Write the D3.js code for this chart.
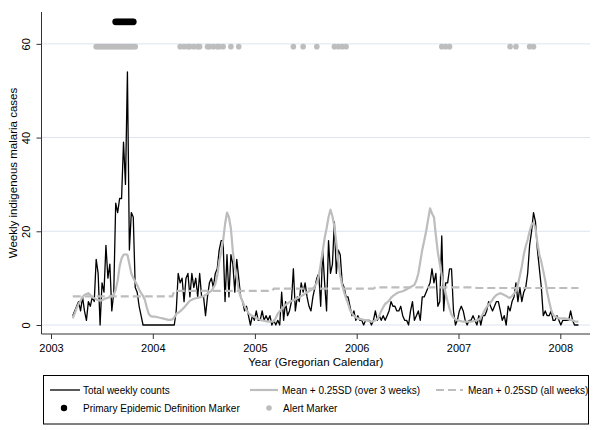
<!DOCTYPE html>
<html><head><meta charset="utf-8">
<script src="https://cdn.jsdelivr.net/npm/d3@7"></script>
<style>
body{margin:0;background:#fff}
svg{display:block}
text{font-family:"Liberation Sans",Arial,Helvetica,sans-serif;fill:#000}
</style>
</head><body>
<svg id="c" width="600" height="430"></svg>
<script>
// ---------------- DATA ----------------
const firstWeek = "2003-03-20";   // date of the first weekly observation
const weeklyCounts = [
 2,3,4,5,3,6,3,1,5,4,6,5,14,11,0,9,7,17,10,13,3,7,26,24,27,27,39,30,54,16,24,23,8,7,4,2,0,
 0,0,0,0,0,0,0,0,0,0,0,0,0,0,0,0,
 3,11,9,10,5,10,11,6,11,8,10,6,11,6,6,2,6,9,10,8,11,12,16,18,18,5,15,6,15,13,7,14,10,6,5,3,4,2,0,2,1,3,1,1,3,1,2,1,2,0,1,0,1,0,
 7,1,5,2,3,5,12,3,6,5,9,7,9,6,4,3,6,8,10,11,4,16,9,3,18,11,13,22,11,16,15,9,8,6,6,4,2,3,1,2,1,1,0,1,1,1,0,1,
 3,1,2,1,2,1,2,3,5,4,4,3,3,4,2,1,1,0,3,5,1,2,3,1,6,6,7,8,9,12,9,11,4,5,19,3,9,9,12,12,3,0,1,3,4,3,1,0,1,1,2,1,0,2,0,
 2,2,3,5,4,3,4,5,5,3,1,2,0,4,3,5,6,9,5,8,5,7,8,11,17,20,24,22,16,12,8,2,3,2,2,3,1,1,2,1,0,1,1,1,1,3,1,0,0,0
];
const mean3Weeks = [
 1.4,2.5,3.6,4.5,5.2,6.0,6.4,6.6,6.8,6.4,
 5.9,5.7,5.5,5.3,5.2,5.3,5.5,5.7,5.8,6.0,
 6.2,6.5,7.5,9.5,12.5,14.2,15.0,15.1,15.0,13.0,
 11.0,10.0,9.3,8.5,7.6,6.8,6.2,5.3,3.6,2.3,
 1.9,1.8,1.8,1.7,1.6,1.5,1.4,1.3,1.2,1.1,
 1.1,1.2,1.6,2.4,2.6,2.9,3.3,3.7,4.2,4.7,
 5.2,5.4,5.6,5.7,5.8,5.9,6.0,6.1,6.4,6.7,
 7.0,7.3,7.9,8.7,10.5,13.5,15.5,18.0,21.5,24.0,
 23.0,20.6,15.7,12.5,10.0,7.5,6.0,5.0,4.0,3.2,
 2.5,2.2,1.9,1.7,1.5,1.3,1.1,1.0,0.9,0.8,
 0.7,0.7,0.7,0.8,1.5,2.4,2.9,3.4,3.9,4.3,
 4.6,4.9,5.1,5.3,5.5,5.7,5.9,6.2,6.4,6.7,
 7.0,7.2,7.4,7.8,8.3,9.0,10.5,13.0,15.7,18.5,
 20.6,23.0,24.6,23.2,21.0,17.5,13.5,10.5,8.5,7.0,
 5.7,4.6,3.2,2.5,2.0,1.6,1.4,1.3,1.2,1.1,
 1.0,0.9,0.8,0.7,0.8,1.0,1.3,2.0,3.0,3.8,
 4.5,4.8,5.2,5.8,6.2,6.5,6.8,7.0,7.1,7.2,
 7.4,7.6,7.9,8.1,8.3,8.6,9.5,11.0,13.5,16.0,
 18.0,20.0,22.5,24.9,23.8,23.0,19.0,15.5,13.0,10.5,
 8.5,6.8,5.0,3.5,2.2,1.6,1.2,1.0,0.9,0.8,
 0.7,0.7,0.7,0.7,0.7,0.8,0.9,1.0,1.2,1.6,
 2.3,3.2,3.8,4.4,4.8,5.4,6.0,6.4,6.6,6.8,
 6.6,6.4,6.2,5.9,5.8,6.2,6.7,7.3,8.6,10.5,
 12.5,15.0,16.8,18.2,20.0,21.4,21.8,20.6,17.5,15.0,
 13.5,11.5,9.5,7.0,5.0,3.3,2.2,1.8,1.6,1.4,
 1.4,1.4,1.4,1.3,1.2,1.1,1.0,0.8,0.7,0.7
];
// threshold over all weeks: value that holds from a given week index on
const allWeeksFromWeek = [0, 52, 103, 155, 207];
const allWeeksValue    = [6.1, 7.3, 7.75, 8.05, 7.9];
// week indices flagged
const alertWeeks = [12,13,14,15,16,17,18,19,20,21,22,23,24,25,26,27,28,29,30,31,32,
 55,57,59,60,62,64,65,69,70,72,74,75,77,81,85,113,118,125,134,136,138,140,189,191,193,224,227,234,236];
const epidemicWeeks = [22,23,24,25,26,27,28,29,30,31];
const alertLevel = 59.4;
const epidemicLevel = 64.7;
const yearTicks = [2003,2004,2005,2006,2007,2008];
const yTicks = [0,20,40,60];
const legendLabels = ["Total weekly counts","Mean + 0.25SD (over 3 weeks)","Mean + 0.25SD (all weeks)","Primary Epidemic Definition Marker","Alert Marker"];

// ---------------- CHART ----------------
const svg = d3.select("#c");
const plotL = 41.5, plotR = 590, plotT = 12, plotB = 334;
const grayCol = "#bdbdbd";

const x = d3.scaleUtc()
  .domain([new Date(Date.UTC(yearTicks[0],0,1)), new Date(Date.UTC(yearTicks[yearTicks.length-1],0,1))])
  .range([51, 560.3]);
const y = d3.scaleLinear().domain([-1.92, 66.8]).range([plotB, plotT]);

const start = new Date(firstWeek + "T00:00:00Z");
const weekDate = i => d3.utcDay.offset(start, 7 * i);
const allWeeksAt = i => { let v = allWeeksValue[0]; allWeeksFromWeek.forEach((w,k)=>{ if (i >= w) v = allWeeksValue[k]; }); return v; };

const rows = weeklyCounts.map((c,i)=>({d: weekDate(i), c, m: mean3Weeks[i], a: allWeeksAt(i)}));

// gridlines
svg.append("g").selectAll("line").data(yTicks).join("line")
  .attr("x1", plotL).attr("x2", plotR)
  .attr("y1", d=>y(d)).attr("y2", d=>y(d))
  .attr("stroke", "#dde3ef").attr("stroke-width", 1);

// axes
const yAxis = svg.append("g").attr("transform", `translate(${plotL},0)`)
  .call(d3.axisLeft(y).tickValues(yTicks).tickSize(5).tickFormat(d3.format("d")));
yAxis.select(".domain").remove();
yAxis.selectAll(".tick line").attr("stroke", "#333");
yAxis.selectAll(".tick text")
  .attr("transform", "rotate(-90)").attr("x", 0).attr("y", -11.5).attr("dy", 0)
  .attr("text-anchor", "middle").style("font-size", "11px").style("font-family", null);

const xAxis = svg.append("g").attr("transform", `translate(0,${plotB})`)
  .call(d3.axisBottom(x).tickValues(yearTicks.map(v=>new Date(Date.UTC(v,0,1)))).tickSize(5).tickFormat(d3.utcFormat("%Y")));
xAxis.select(".domain").remove();
xAxis.selectAll(".tick line").attr("stroke", "#333");
xAxis.selectAll(".tick text").attr("y", 10.5).style("font-size", "11px").style("font-family", null);

svg.append("line").attr("x1", plotL).attr("x2", plotL).attr("y1", plotT).attr("y2", plotB).attr("stroke", "#333");
svg.append("line").attr("x1", plotL).attr("x2", plotR).attr("y1", plotB).attr("y2", plotB).attr("stroke", "#333");

// titles
svg.append("text").attr("transform", `translate(17,173) rotate(-90)`).attr("text-anchor","middle")
  .style("font-size","11.5px").text("Weekly indigenous malaria cases");
svg.append("text").attr("x", (plotL+plotR)/2).attr("y", 366).attr("text-anchor","middle")
  .style("font-size","11.5px").text("Year (Gregorian Calendar)");

// lines
const lineC = d3.line().x(d=>x(d.d)).y(d=>y(d.c));
const lineM = d3.line().x(d=>x(d.d)).y(d=>y(d.m));
const lineA = d3.line().x(d=>x(d.d)).y(d=>y(d.a));
svg.append("path").datum(rows).attr("d", lineC).attr("fill","none").attr("stroke","#000").attr("stroke-width",1.3).attr("stroke-linejoin","round");
svg.append("path").datum(rows).attr("d", lineM).attr("fill","none").attr("stroke",grayCol).attr("stroke-width",2.2).attr("stroke-linejoin","round");
svg.append("path").datum(rows).attr("d", lineA).attr("fill","none").attr("stroke",grayCol).attr("stroke-width",2.2).attr("stroke-dasharray","8,4");

// markers
svg.append("g").selectAll("circle").data(alertWeeks).join("circle")
  .attr("cx", i=>x(weekDate(i))).attr("cy", y(alertLevel)).attr("r", 2.8).attr("fill", grayCol);
svg.append("g").selectAll("circle").data(epidemicWeeks).join("circle")
  .attr("cx", i=>x(weekDate(i))).attr("cy", y(epidemicLevel)).attr("r", 3.4).attr("fill", "#000");

// legend
const lg = svg.append("g");
lg.append("rect").attr("x",43.5).attr("y",375.5).attr("width",545).attr("height",48.5)
  .attr("fill","#fff").attr("stroke","#000").attr("stroke-width",1);
const r1 = 390, r2 = 408;
lg.append("line").attr("x1",50).attr("x2",80).attr("y1",r1).attr("y2",r1).attr("stroke","#000").attr("stroke-width",1.3);
lg.append("line").attr("x1",250).attr("x2",278).attr("y1",r1).attr("y2",r1).attr("stroke",grayCol).attr("stroke-width",2.2);
lg.append("line").attr("x1",436).attr("x2",463).attr("y1",r1).attr("y2",r1).attr("stroke",grayCol).attr("stroke-width",2.2).attr("stroke-dasharray","8,4");
lg.append("circle").attr("cx",64).attr("cy",r2).attr("r",3.2).attr("fill","#000");
lg.append("circle").attr("cx",269).attr("cy",r2).attr("r",2.8).attr("fill",grayCol);
const lpos = [[83,r1],[282,r1],[468,r1],[83,r2],[283,r2]];
lg.selectAll("text.l").data(legendLabels).join("text").attr("class","l")
  .attr("x",(d,i)=>lpos[i][0]).attr("y",(d,i)=>lpos[i][1]).attr("dy","0.35em")
  .style("font-size","10px").text(d=>d);
</script>
</body></html>
